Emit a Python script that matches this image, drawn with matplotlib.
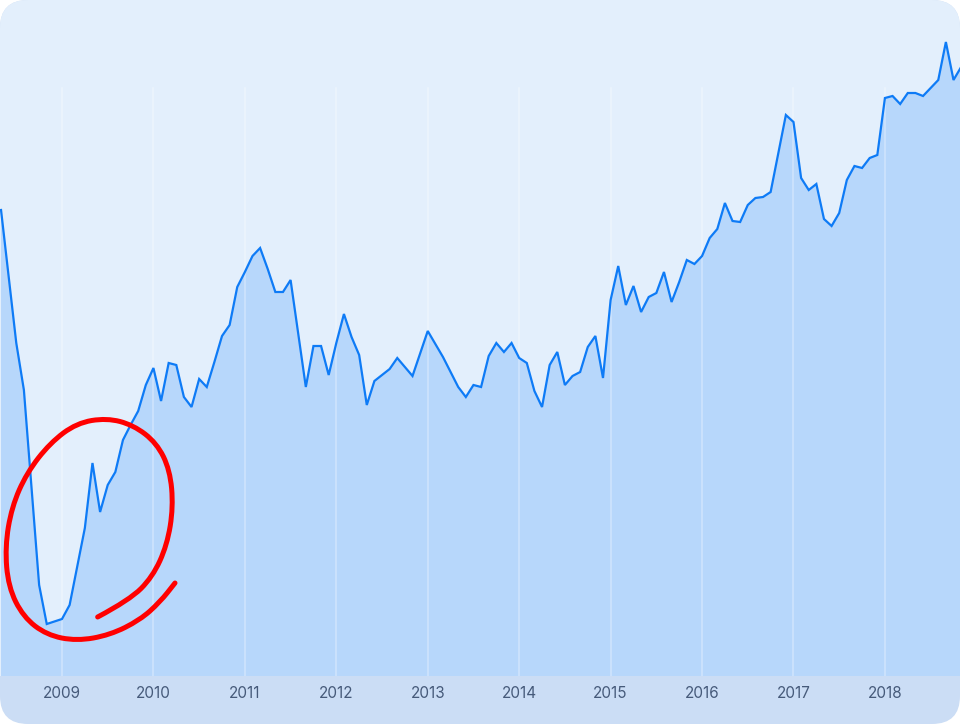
import numpy as np
import matplotlib
matplotlib.use('Agg')
import matplotlib.pyplot as plt
from matplotlib.patches import FancyBboxPatch, Rectangle, PathPatch
from matplotlib.path import Path
from matplotlib.transforms import IdentityTransform

# monthly closes (gaps where the line runs straight)
months = [
    '2008-05', '2008-07', '2008-08', '2008-10', '2008-11',
    '2009-01', '2009-02', '2009-04', '2009-05', '2009-06', '2009-07',
    '2009-08', '2009-09', '2009-10', '2009-11', '2009-12',
    '2010-01', '2010-02', '2010-03', '2010-04', '2010-05', '2010-06',
    '2010-07', '2010-08', '2010-09', '2010-10', '2010-11', '2010-12',
    '2011-01', '2011-02', '2011-03', '2011-04', '2011-05', '2011-06',
    '2011-07', '2011-09', '2011-10', '2011-11', '2011-12',
    '2012-01', '2012-02', '2012-03', '2012-04', '2012-05', '2012-06',
    '2012-08', '2012-09', '2012-11',
    '2013-01', '2013-03', '2013-05', '2013-06', '2013-07', '2013-08',
    '2013-09', '2013-10', '2013-11', '2013-12',
    '2014-01', '2014-02', '2014-03', '2014-04', '2014-05', '2014-06',
    '2014-07', '2014-08', '2014-09', '2014-10', '2014-11', '2014-12',
    '2015-01', '2015-02', '2015-03', '2015-04', '2015-05', '2015-06',
    '2015-07', '2015-08', '2015-09', '2015-10', '2015-11', '2015-12',
    '2016-01', '2016-02', '2016-03', '2016-04', '2016-05', '2016-06',
    '2016-07', '2016-08', '2016-09', '2016-10', '2016-12',
    '2017-01', '2017-02', '2017-03', '2017-04', '2017-05', '2017-06',
    '2017-07', '2017-08', '2017-09', '2017-10', '2017-11', '2017-12',
    '2018-01', '2018-02', '2018-03', '2018-04', '2018-05', '2018-06',
    '2018-07', '2018-08', '2018-09', '2018-10', '2018-11',
]
values = [
    466, 333, 286, 91, 52,
    57, 71, 148, 213, 164, 191, 204, 236, 251, 265, 291,
    308, 275, 313, 311, 279, 269, 297, 289, 314, 340, 351, 389,
    404, 420, 428, 407, 384, 384, 396, 289, 330, 330, 301,
    333, 362, 339, 321, 271, 295, 307, 318, 300,
    345, 319, 289, 279, 291, 289, 320, 333, 324, 333,
    318, 313, 285, 269, 311, 324, 291, 300, 304, 329, 340, 298,
    376, 410, 371, 390, 364, 379, 383, 404, 374, 394, 416, 412,
    420, 438, 447, 473, 455, 454, 471, 478, 479, 484, 561,
    554, 498, 486, 492, 457, 450, 463, 496, 510, 508, 518, 521,
    578, 580, 572, 583, 583, 580, 588, 596, 634, 596, 609,
]
years = [2009, 2010, 2011, 2012, 2013, 2014, 2015, 2016, 2017, 2018]

# hand drawn ring around the 2009 low (year, value)
ring = [
    (2009.390, 59), (2009.740, 76), (2009.990, 99), (2010.150, 131),
    (2010.217, 169), (2010.181, 206), (2010.036, 233), (2009.780, 251),
    (2009.489, 258), (2009.161, 253), (2008.869, 233), (2008.614, 203),
    (2008.450, 169), (2008.377, 129), (2008.413, 89), (2008.577, 59),
    (2008.833, 41), (2009.161, 35), (2009.525, 41), (2009.853, 56),
    (2010.072, 74), (2010.236, 93),
]

BG = '#e3effc'
FILL = '#b7d7fb'
BAND = '#cbddf5'
LINE = '#0e7bf6'

x = np.array([int(m[:4]) + (int(m[5:]) - 1) / 12 for m in months])
y = np.array(values)

W, H = 960, 724
fig = plt.figure(figsize=(W / 100, H / 100), dpi=100)
fig.patch.set_facecolor('white')

card = FancyBboxPatch((0, 0), W, H, boxstyle='round,pad=0,rounding_size=28',
                      transform=IdentityTransform(), facecolor=BAND,
                      edgecolor='none', zorder=-2)
fig.patches.append(card)
top = Rectangle((0, 48), W, H - 48, transform=IdentityTransform(),
                facecolor=BG, edgecolor='none', zorder=-1)
top.set_clip_path(card)
fig.patches.append(top)

ax = fig.add_axes([0, 48 / H, 1, (H - 48) / H])
ax.set_facecolor('none')
ax.set_xlim(2008.322, 2018.821)
ax.set_ylim(0, 676)

area = ax.fill_between(x, 0, y, color=FILL, lw=0, zorder=1)
area.set_clip_path(card)
for yr in years:
    ax.axvline(yr, ymin=0, ymax=0.87, color='white', alpha=0.35, lw=1.1, zorder=2)
ln, = ax.plot(x, y, color=LINE, lw=1.6, zorder=3, solid_joinstyle='miter')
ln.set_clip_path(card)

# smooth stroke through the ring points
verts = [ring[0]]
codes = [Path.MOVETO]
for i in range(1, len(ring) - 1):
    mid = ((ring[i][0] + ring[i + 1][0]) / 2, (ring[i][1] + ring[i + 1][1]) / 2)
    verts += [ring[i], mid]
    codes += [Path.CURVE3, Path.CURVE3]
verts.append(ring[-1])
codes.append(Path.LINETO)
ax.add_patch(PathPatch(Path(verts, codes), facecolor='none', edgecolor='#ff0000',
                       lw=3.6, capstyle='round', joinstyle='round', zorder=4))

ax.set_xticks(years)
ax.set_xticklabels([str(yr) for yr in years], fontsize=11, color='#465a7a',
                   family=['Inter', 'DejaVu Sans'])
ax.tick_params(axis='x', length=0, pad=7)
ax.set_yticks([])
for s in ax.spines.values():
    s.set_visible(False)

fig.savefig('out.png', dpi=100, facecolor='white')
